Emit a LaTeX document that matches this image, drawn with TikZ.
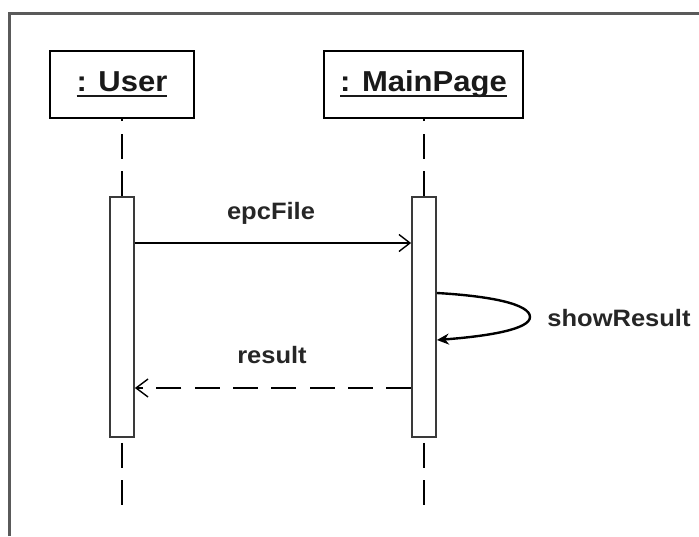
\documentclass[tikz,border=0pt]{standalone}
\usepackage{fontspec}
\setmainfont{Liberation Sans}
\usetikzlibrary{arrows.meta}
\newcommand{\sqz}[1]{\scalebox{1}[0.93]{#1}}
\newcommand{\ulin}[1]{\setbox0\hbox{#1}\rlap{\rule[-5.5pt]{\wd0}{2.4pt}}\box0}
\definecolor{framegray}{HTML}{5A5A5A}
\definecolor{actgray}{HTML}{3A3A3A}
\tikzset{
  objbox/.style={draw=black, line width=2.6pt, fill=white, minimum width=#1, minimum height=67pt, inner sep=0pt,
    font=\bfseries\fontsize{31}{34}\selectfont, text=black!90},
  actbox/.style={draw=actgray, line width=1.8pt, fill=white, minimum width=24pt, minimum height=240pt, inner sep=0pt},
  lifeline/.style={line width=2.6pt, dash pattern=on 25pt off 12.5pt},
  msg/.style={line width=1.6pt, -{Straight Barb[length=11pt,width=17pt,line width=1.4pt]}},
  reply/.style={line width=2.2pt, dash pattern=on 25pt off 13.3pt, -{Straight Barb[length=12pt,width=18pt,line width=1.4pt]}},
  selfmsg/.style={line width=2.4pt, -{Stealth[length=12pt,width=11pt]}},
  lbl/.style={font=\bfseries\fontsize{25.5}{28}\selectfont, text=black!85, inner sep=0pt},
}
\begin{document}
\begin{tikzpicture}[x=1pt, y=-1pt]
\useasboundingbox (0,0) rectangle (699,536);
\fill[white] (0,0) rectangle (699,536);
% frame
\draw[framegray, line width=3pt] (9,536) -- (9,13.5) -- (699,13.5);

% objects
\node[objbox=144pt] (user) at (122,84.5) {\sqz{\ulin{: User}}};
\node[objbox=199pt] (main) at (423.5,84.5) {\sqz{\ulin{: MainPage}}};

% activations
\node[actbox] (ua) at (122,317) {};
\node[actbox] (ma) at (424,317) {};

% lifelines
\coordinate (uend) at (122,505);
\coordinate (mend) at (424,505);
\draw[lifeline] (ua.north) -- (user.south);
\draw[lifeline] (ma.north) -- (main.south -| ma.north);
\draw[lifeline, dash phase=-5pt] (ua.south) -- (uend);
\draw[lifeline, dash phase=-5pt] (ma.south) -- (mend);

% messages
\coordinate (y1) at (0,243);
\coordinate (y2) at (0,293);
\coordinate (y3) at (0,340);
\coordinate (y4) at (0,388);
\coordinate (tip) at (530,317);
\draw[msg] (ua.east |- y1) -- (ma.west |- y1);
\node[lbl] (l1) at (271,213) {\sqz{epcFile}};

\draw[selfmsg] (ma.east |- y2) .. controls (490,296) and (530,304) .. (tip)
  .. controls (530,329) and (490,336) .. (ma.east |- y3);
\node[lbl] (l2) at (619,318) {\sqz{showResult}};

\draw[reply] (ma.west |- y4) -- (ua.east |- y4);
\node[lbl] (l3) at (272,355) {\sqz{result}};
\end{tikzpicture}
\end{document}
